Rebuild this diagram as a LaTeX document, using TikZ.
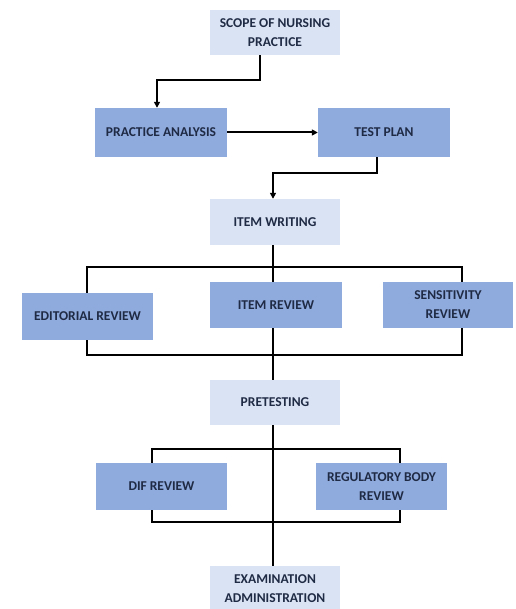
\documentclass[tikz,border=0pt]{standalone}
\usepackage{fontspec}
\setmainfont{Carlito}
\usetikzlibrary{arrows.meta}
\definecolor{lightbox}{HTML}{DAE3F3}
\definecolor{darkbox}{HTML}{8FAADC}
\definecolor{txt}{HTML}{1F2A44}
\tikzset{
  base/.style={inner sep=0pt, align=center, font=\bfseries\fontsize{13.5}{19}\selectfont, text=txt},
  lbox/.style={base, fill=lightbox},
  dbox/.style={base, fill=darkbox},
  conn/.style={line width=2pt, black},
  arr/.style={conn, -{Triangle[length=6pt,width=6pt]}}
}
\begin{document}
\begin{tikzpicture}[x=1pt,y=-1pt]
\useasboundingbox (0,0) rectangle (515,609);
\node[lbox, minimum width=130, minimum height=45] (scope) at (275,32.5) {SCOPE OF NURSING\\PRACTICE};
\node[dbox, minimum width=132, minimum height=49] (pa) at (161,132.5) {PRACTICE ANALYSIS};
\node[dbox, minimum width=132, minimum height=49] (tp) at (384,132.5) {TEST PLAN};
\node[lbox, minimum width=130, minimum height=46] (iw) at (275,222) {ITEM WRITING};
\node[dbox, minimum width=131, minimum height=47] (er) at (87.5,316.5) {EDITORIAL REVIEW};
\node[dbox, minimum width=132, minimum height=46] (ir) at (276,305) {ITEM REVIEW};
\node[dbox, minimum width=130, minimum height=46] (sr) at (448,305) {SENSITIVITY\\REVIEW};
\node[lbox, minimum width=130, minimum height=45] (pt) at (275,402.5) {PRETESTING};
\node[dbox, minimum width=131, minimum height=47] (dif) at (161.5,486.5) {DIF REVIEW};
\node[dbox, minimum width=131, minimum height=47] (rb) at (381.5,486.5) {REGULATORY BODY\\REVIEW};
\node[lbox, minimum width=130, minimum height=46] (ea) at (275,589) {EXAMINATION\\ADMINISTRATION};
% coordinates for connectors
\coordinate (s1) at (260,80);
\coordinate (s2) at (157,80);
\coordinate (t1) at (377,173);
\coordinate (t2) at (273,173);
\coordinate (bt) at (273,267);
\coordinate (btl) at (87,267);
\coordinate (btr) at (462,267);
\coordinate (bb) at (273,355);
\coordinate (bbl) at (87,355);
\coordinate (bbr) at (462,355);
\coordinate (ct) at (273,449);
\coordinate (ctl) at (152,449);
\coordinate (ctr) at (400,449);
\coordinate (cb) at (273,522);
\coordinate (cbl) at (152,522);
\coordinate (cbr) at (400,522);
% arrows
\draw[arr] (scope.south -| s1) -- (s1) -- (s2) -- (s2 |- pa.north);
\draw[arr] (pa.east) -- (tp.west);
\draw[arr] (tp.south -| t1) -- (t1) -- (t2) -- (t2 |- iw.north);
% item writing bracket
\draw[conn] (iw.south -| bt) -- (ir.north -| bt);
\draw[conn] (btl |- er.north) -- (btl) -- (btr) -- (btr |- sr.north);
\draw[conn] (bbl |- er.south) -- (bbl) -- (bbr) -- (bbr |- sr.south);
\draw[conn] (ir.south -| bb) -- (pt.north -| bb);
% pretesting bracket
\draw[conn] (pt.south -| ct) -- (ea.north -| ct);
\draw[conn] (ctl |- dif.north) -- (ctl) -- (ctr) -- (ctr |- rb.north);
\draw[conn] (cbl |- dif.south) -- (cbl) -- (cbr) -- (cbr |- rb.south);
\end{tikzpicture}
\end{document}
